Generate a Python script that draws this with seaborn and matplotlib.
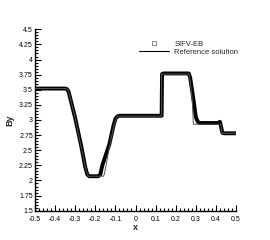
import matplotlib
matplotlib.use("Agg")
import matplotlib.pyplot as plt
from matplotlib.lines import Line2D
from matplotlib.ticker import MultipleLocator, FixedLocator, FixedFormatter
import seaborn as sns
import pandas as pd

# Reference solution (thin line)
ref_x = [-0.5, -0.345, -0.335, -0.30, -0.27, -0.245, -0.235, -0.16, -0.155, -0.13, -0.105, -0.09,
         0.13, 0.13, 0.268, 0.282, 0.288, 0.425, 0.43, 0.5]
ref_y = [3.52, 3.52, 3.50, 3.03, 2.55, 2.15, 2.07, 2.07, 2.10, 2.55, 2.95, 3.065,
         3.065, 3.76, 3.76, 3.35, 2.93, 2.93, 2.78, 2.78]

# SIFV-EB numerical solution (dense square markers)
num_x = [-0.5, -0.35, -0.34, -0.333, -0.30, -0.27, -0.25, -0.24, -0.23, -0.185, -0.175, -0.165,
         -0.13, -0.11, -0.10, -0.09, -0.08, 0.13, 0.132, 0.14, 0.265, 0.272, 0.29, 0.30,
         0.31, 0.32, 0.41, 0.42, 0.425, 0.432, 0.44, 0.5]
num_y = [3.52, 3.52, 3.51, 3.47, 3.03, 2.57, 2.22, 2.10, 2.07, 2.07, 2.10, 2.25,
         2.60, 2.90, 3.02, 3.06, 3.07, 3.07, 3.76, 3.77, 3.77, 3.70, 3.30, 3.05,
         2.97, 2.95, 2.95, 2.97, 2.90, 2.79, 2.78, 2.78]

xticks = [-0.5, -0.4, -0.3, -0.2, -0.1, 0, 0.1, 0.2, 0.3, 0.4, 0.5]
xticklabels = ["-0.5", "-0.4", "-0.3", "-0.2", "-0.1", "0", "0.1", "0.2", "0.3", "0.4", "0.5"]
yticks = [1.5, 1.75, 2, 2.25, 2.5, 2.75, 3, 3.25, 3.5, 3.75, 4, 4.25, 4.5]
yticklabels = ["1.5", "1.75", "2", "2.25", "2.5", "2.75", "3", "3.25", "3.5", "3.75", "4", "4.25", "4.5"]

sns.set_style("ticks")
plt.rcParams["font.family"] = ["Liberation Sans", "DejaVu Sans"]

fig = plt.figure(figsize=(2.7, 2.4), dpi=100)
ax = fig.add_axes([35 / 270, 1 - 210.7 / 240, 201 / 270, 181.4 / 240])

df_num = pd.DataFrame({"x": num_x, "y": num_y})
df_ref = pd.DataFrame({"x": ref_x, "y": ref_y})

sns.lineplot(data=df_num, x="x", y="y", sort=False, estimator=None, color="black",
             linewidth=2.8, ax=ax, zorder=2)
sns.lineplot(data=df_ref, x="x", y="y", sort=False, estimator=None, color="#555555",
             linewidth=0.7, ax=ax, zorder=3)

ax.set_xlim(-0.5, 0.5)
ax.set_ylim(1.5, 4.5)
ax.xaxis.set_major_locator(FixedLocator(xticks))
ax.xaxis.set_major_formatter(FixedFormatter(xticklabels))
ax.yaxis.set_major_locator(FixedLocator(yticks))
ax.yaxis.set_major_formatter(FixedFormatter(yticklabels))
ax.xaxis.set_minor_locator(MultipleLocator(0.02))
ax.yaxis.set_minor_locator(MultipleLocator(0.05))
ax.tick_params(which="both", direction="in", labelsize=5, width=0.8, colors="black")
ax.tick_params(axis="x", which="both", pad=3.5)
ax.tick_params(axis="y", which="both", pad=1.5)
ax.tick_params(which="major", length=4)
ax.tick_params(which="minor", length=2)
for s in ["top", "right"]:
    ax.spines[s].set_visible(False)
for s in ["left", "bottom"]:
    ax.spines[s].set_linewidth(1.0)
    ax.spines[s].set_color("black")

ax.set_xlabel("x", fontsize=6.5, fontweight="bold", labelpad=0)
ax.set_ylabel("By", fontsize=6.5, fontweight="bold", labelpad=3)

handles = [
    Line2D([], [], linestyle="none", marker="s", markersize=2.2, markerfacecolor="none",
           markeredgecolor="#555555", markeredgewidth=0.5, label="SIFV-EB"),
    Line2D([], [], color="black", linewidth=0.8, label="Reference solution"),
]
ax.legend(handles=handles, loc="upper left", bbox_to_anchor=(0.515, 0.94), frameon=False,
          fontsize=5.5, handlelength=4.0, handletextpad=0.7, labelspacing=0.15,
          borderaxespad=0, borderpad=0)

fig.savefig("out.png", dpi=100)
